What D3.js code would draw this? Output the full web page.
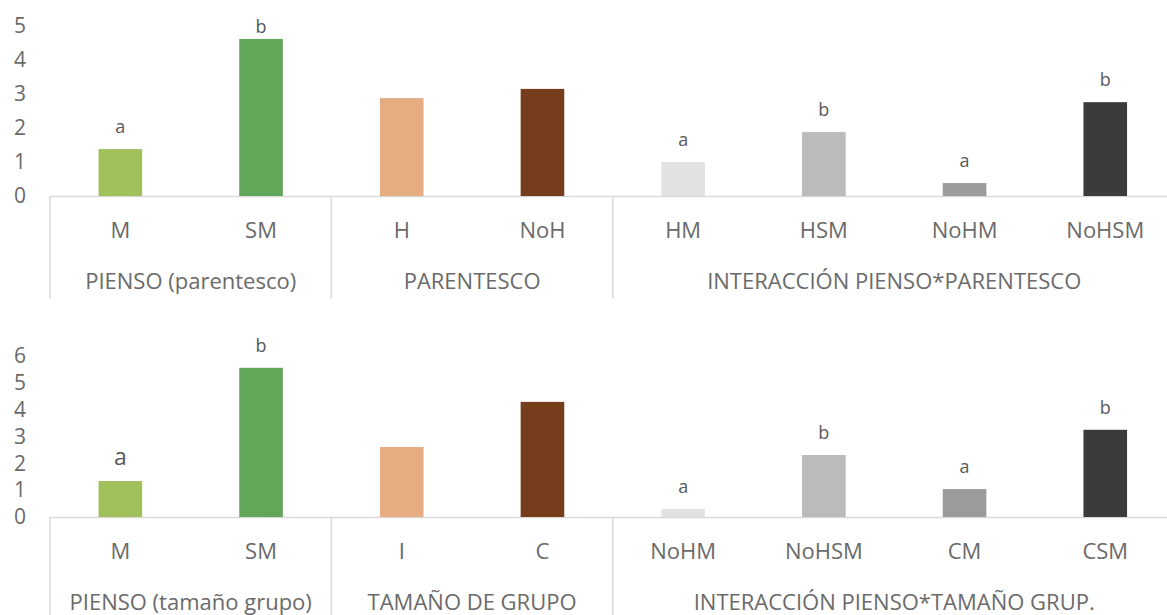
<!DOCTYPE html>
<html>
<head>
<meta charset="utf-8">
<script src="https://cdn.jsdelivr.net/npm/d3@7"></script>
<style>
  body { margin: 0; background: #fff; }
  svg { display: block; font-family: "Open Sans", "Noto Sans", sans-serif; }
</style>
</head>
<body>
<script>
var width = 1167, height = 615;

// top chart: pienso x parentesco
var topCats = ["M", "SM", "H", "NoH", "HM", "HSM", "NoHM", "NoHSM"];
var topValues = [1.38, 4.62, 2.88, 3.15, 1.0, 1.88, 0.38, 2.76];
var topLetters = ["a", "b", "", "", "a", "b", "a", "b"];
var topGroups = ["PIENSO (parentesco)", "PARENTESCO", "INTERACCIÓN PIENSO*PARENTESCO"];
var topTicks = [0, 1, 2, 3, 4, 5];

// bottom chart: pienso x tamaño de grupo
var botCats = ["M", "SM", "I", "C", "NoHM", "NoHSM", "CM", "CSM"];
var botValues = [1.34, 5.56, 2.61, 4.29, 0.30, 2.31, 1.04, 3.25];
var botLetters = ["a", "b", "", "", "a", "b", "a", "b"];
var botGroups = ["PIENSO (tamaño grupo)", "TAMAÑO DE GRUPO", "INTERACCIÓN PIENSO*TAMAÑO GRUP."];
var botTicks = [0, 1, 2, 3, 4, 5, 6];

var groupSizes = [2, 2, 4];
var palette = ["#9fc05a", "#62a65a", "#e6ad82", "#763d1c", "#e2e2e2", "#bbbbbb", "#9b9b9b", "#3b3b3b"];

var svg = d3.select("body").append("svg")
    .attr("width", width).attr("height", height);

function panel(cats, values, letters, groups, ticks, o) {
  var x = d3.scaleBand().domain(cats).range([50, 1175.6])
      .paddingInner(0.69).paddingOuter(0.345);
  var y = d3.scaleLinear().domain([0, d3.max(ticks)]).range([o.base, o.top]);
  var step = x.step();
  var g = svg.append("g");

  // y axis labels
  var ax = g.append("g").attr("transform", "translate(50,0)")
      .call(d3.axisLeft(y).tickValues(ticks).tickFormat(d3.format("d"))
        .tickSize(0).tickPadding(24));
  ax.select(".domain").remove();
  ax.attr("font-family", null).attr("font-size", null);
  ax.selectAll("text").attr("font-size", 21).attr("fill", "#6a6a6a");

  // baseline
  g.append("line").attr("x1", 50).attr("x2", 1176)
      .attr("y1", o.base + 0.5).attr("y2", o.base + 0.5)
      .attr("stroke", "#d9d9d9").attr("stroke-width", 1.5);

  // group separators
  var edges = [0];
  groupSizes.forEach(function(n, i) { edges.push(edges[i] + n); });
  g.selectAll(".sep").data(edges).enter().append("line")
      .attr("x1", function(d) { return 50 + d * step; })
      .attr("x2", function(d) { return 50 + d * step; })
      .attr("y1", o.base).attr("y2", o.sepEnd)
      .attr("stroke", "#d9d9d9").attr("stroke-width", 1.5);

  g.selectAll(".bar").data(values).enter().append("rect")
      .attr("x", function(d, i) { return x(cats[i]); })
      .attr("width", x.bandwidth())
      .attr("y", function(d) { return y(d); })
      .attr("height", function(d) { return o.base - y(d); })
      .attr("fill", function(d, i) { return palette[i]; });

  g.selectAll(".lab").data(values).enter().append("text")
      .attr("x", function(d, i) { return x(cats[i]) + x.bandwidth() / 2; })
      .attr("y", function(d) { return Math.max(y(d) - 16, o.labelMin); })
      .attr("text-anchor", "middle")
      .attr("font-size", function(d, i) { return (o.bigFirst && i === 0) ? 23 : 18; })
      .attr("fill", "#595959")
      .text(function(d, i) { return letters[i]; });

  g.selectAll(".cat").data(cats).enter().append("text")
      .attr("x", function(d) { return x(d) + x.bandwidth() / 2; })
      .attr("y", o.base + 42)
      .attr("text-anchor", "middle")
      .attr("font-size", 22).attr("fill", "#6a6a6a")
      .text(function(d) { return d; });

  g.selectAll(".grp").data(groups).enter().append("text")
      .attr("x", function(d, i) { return 50 + (edges[i] + edges[i + 1]) / 2 * step; })
      .attr("y", o.base + 93)
      .attr("text-anchor", "middle")
      .attr("font-size", 22).attr("fill", "#6a6a6a")
      .text(function(d) { return d; });
}

panel(topCats, topValues, topLetters, topGroups, topTicks,
      {base: 196, top: 26, sepEnd: 298, labelMin: 33, bigFirst: false});
panel(botCats, botValues, botLetters, botGroups, botTicks,
      {base: 517, top: 356, sepEnd: 620, labelMin: 0, bigFirst: true});
</script>
</body>
</html>
